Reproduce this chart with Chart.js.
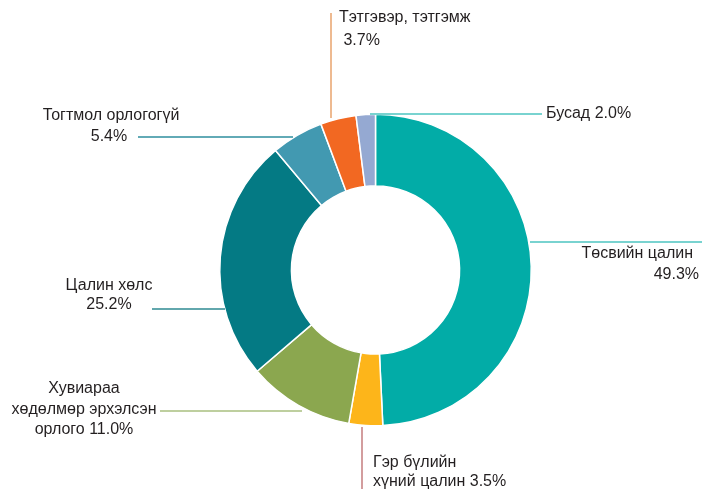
<!DOCTYPE html>
<html>
<head>
<meta charset="utf-8">
<script src="https://cdn.jsdelivr.net/npm/chart.js@4.4.0/dist/chart.umd.min.js"></script>
<style>
html,body{margin:0;padding:0;background:#fff;}
#wrap{width:702px;height:489px;position:relative;}
</style>
</head>
<body>
<div id="wrap"><canvas id="c" width="702" height="489"></canvas></div>
<script>
const categories = ["Төсвийн цалин", "Гэр бүлийн хүний цалин", "Хувиараа хөдөлмөр эрхэлсэн орлого", "Цалин хөлс", "Тогтмол орлогогүй", "Тэтгэвэр, тэтгэмж", "Бусад"];
const values = [49.3, 3.5, 11.0, 25.2, 5.4, 3.7, 2.0];
const labelLines = [
  ["Төсвийн цалин", "49.3%"],
  ["Гэр бүлийн", "хүний цалин 3.5%"],
  ["Хувиараа", "хөдөлмөр эрхэлсэн", "орлого 11.0%"],
  ["Цалин хөлс", "25.2%"],
  ["Тогтмол орлогогүй", "5.4%"],
  ["Тэтгэвэр, тэтгэмж", " 3.7%"],
  ["Бусад 2.0%"]
];
const colors = ["#02ACA7", "#FDB51A", "#8BA74F", "#047A84", "#4299B1", "#F26822", "#95A9D2"];
const lineColors = ["#4DC4C1", "#C47C7E", "#A9BF7F", "#2E8A92", "#2E8E9E", "#E9A36D", "#4DC4C1"];

// annotation layout (leader lines + text placement), pixel-based
const annot = [
  {line:[[530,242],[702,242]], align:"right", x:[693,699], y:[254,275]},
  {line:[[362,427],[362,489]], align:"left", x:[373,373], y:[463,482]},
  {line:[[160,411],[302,411]], align:"center", x:[84,84,84], y:[389,410,430]},
  {line:[[152,309],[225,309]], align:"center", x:[109,109], y:[286,305]},
  {line:[[138,137],[293,137]], align:"center", x:[111,109], y:[116,137]},
  {line:[[331,13],[331,118]], align:"left", x:[339,339], y:[18,41]},
  {line:[[370,114],[542,114]], align:"left", x:[546], y:[114]}
];

const leaderPlugin = {
  id: 'leaders',
  afterDatasetsDraw(chart) {
    const ctx = chart.ctx;
    ctx.save();
    annot.forEach((a, i) => {
      ctx.strokeStyle = lineColors[i];
      ctx.lineWidth = 1.5;
      ctx.beginPath();
      ctx.moveTo(a.line[0][0], a.line[0][1]);
      ctx.lineTo(a.line[1][0], a.line[1][1]);
      ctx.stroke();
      ctx.fillStyle = "#231F20";
      ctx.font = "16px 'Liberation Sans', Arial, sans-serif";
      ctx.textAlign = a.align;
      ctx.textBaseline = "middle";
      labelLines[i].forEach((t, j) => {
        ctx.fillText(t, a.x[j], a.y[j]);
      });
    });
    ctx.restore();
  }
};

new Chart(document.getElementById('c'), {
  type: 'doughnut',
  data: {
    labels: categories,
    datasets: [{
      data: values,
      backgroundColor: colors,
      borderColor: "#ffffff",
      borderWidth: 1.5
    }]
  },
  options: {
    responsive: false,
    animation: false,
    cutout: '54%',
    layout: { padding: { left: 219, right: 170, top: 113, bottom: 62 } },
    plugins: { legend: { display: false }, tooltip: { enabled: false } }
  },
  plugins: [leaderPlugin]
});
</script>
</body>
</html>
